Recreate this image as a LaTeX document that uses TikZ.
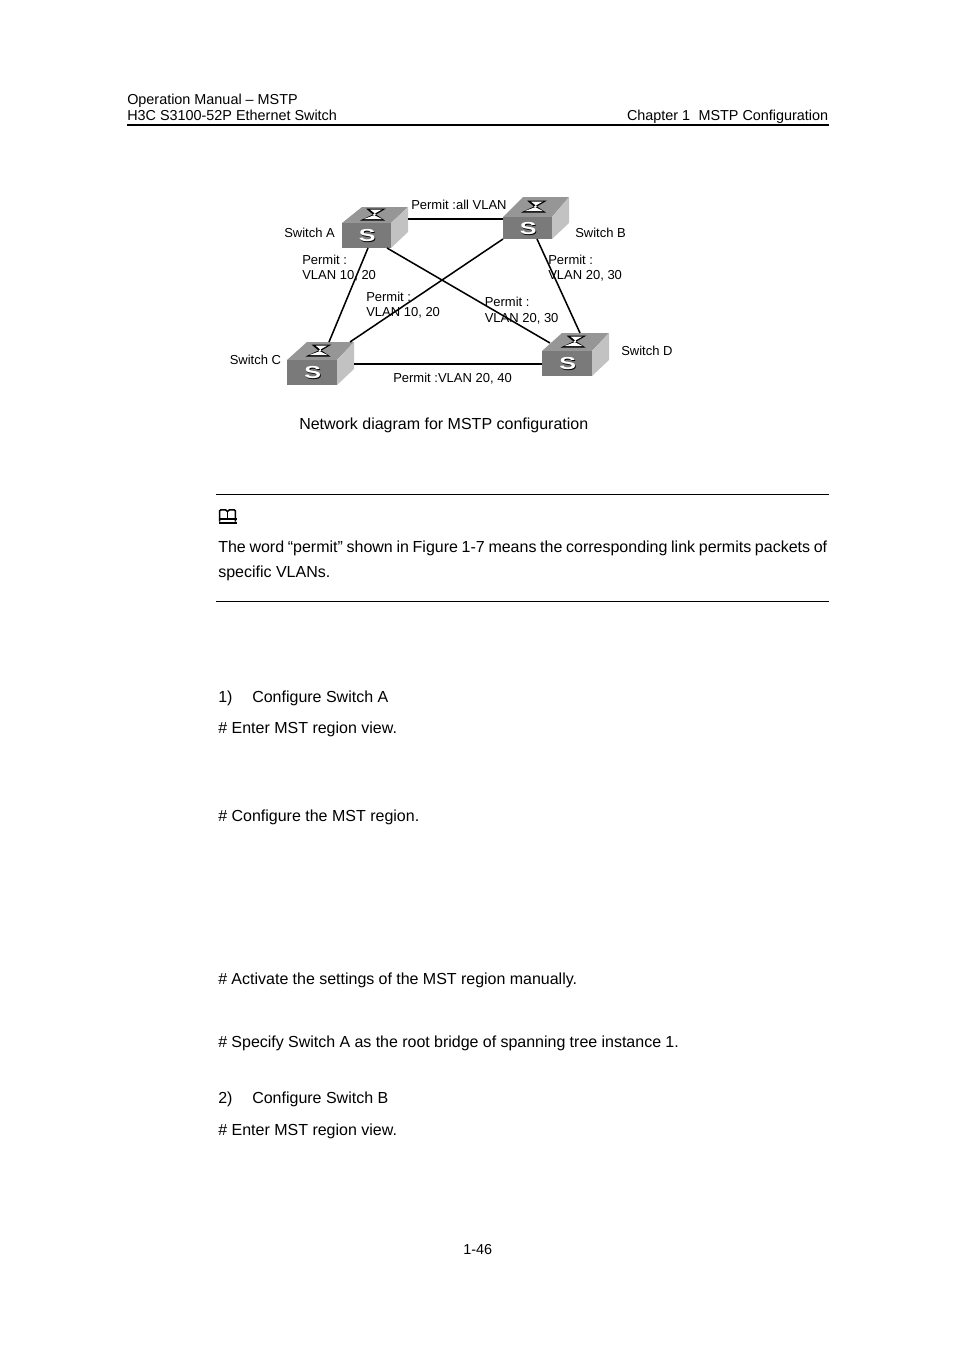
\documentclass[tikz,border=0pt]{standalone}
\usepackage{fontspec}
\setmainfont{Liberation Sans}
\definecolor{swfront}{HTML}{7A7A7A}
\definecolor{swtop}{HTML}{969696}
\definecolor{swside}{HTML}{C2C2C2}
\newcommand{\switchicon}[7]{% name, xl, xr, yfront, ybottom, ytop, depth
  \path[fill=swtop] (#2,#4) -- (#2+#7,#6) -- (#3+#7-3,#6) -- (#3,#4) -- cycle;
  \path[fill=swside] (#3,#4) -- (#3+#7-3,#6) -- (#3+#7-3,#5-16) -- (#3,#5) -- cycle;
  \node[swface, minimum width={(#3-#2)*0.75pt}, minimum height={(#5-#4)*0.75pt}] (#1) at ({(#2+#3)/2},{(#4+#5)/2}) {};
  \node[swmark, text=black] at ({(#2+#3)/2+1.4},{(#4+#5)/2+1.2}) {S};
  \node[swmark, text=white] at ({(#2+#3)/2+0.8},{(#4+#5)/2+0.2}) {S};
  \begin{scope}[shift={({(#2+#3+#7)/2-2.5},{(#4+#6)/2-0.5})}]
    \fill[black] (-14,6) -- (-1,0) -- (-8,-6) -- (12,-6) -- (2,0) -- (11,6) -- cycle;
    \fill[white] (-10,4.5) -- (2,0) -- (-4,-5) -- (8,-5) -- (-1,0) -- (8,4.5) -- cycle;
  \end{scope}
}
\tikzset{
  x=0.75pt,y=-0.75pt,
  swface/.style={fill=swfront,inner sep=0pt,outer sep=0pt},
  swmark/.style={font=\bfseries\fontsize{13}{14}\selectfont,xscale=1.45,inner sep=0pt},
  link/.style={line width=1.15pt,black},
  body/.style={anchor=base west,inner sep=0pt,font=\fontsize{12}{14}\selectfont},
  head/.style={anchor=base west,inner sep=0pt,font=\fontsize{10.8}{13}\selectfont},
  lab/.style={anchor=base west,inner sep=0pt,font=\fontsize{9.75}{11}\selectfont},
  rulel/.style={line width=0.75pt,black},
}
\begin{document}
\begin{tikzpicture}
\useasboundingbox[fill=white] (0,0) rectangle (954,1350);
% header
\node[head] (h1) at (127,104) {Operation Manual – MSTP};
\node[head] (h2) at (127,120) {H3C S3100-52P Ethernet Switch};
\node[head,anchor=base east] (h3) at (828.5,120) {Chapter 1\hspace{0.3em} MSTP Configuration};
\coordinate (hl) at (127,125); \coordinate (hr) at (828.5,125);
\draw[line width=1.2pt] (hl) -- (hr);
% switches
\switchicon{swA}{342}{391}{223}{248}{207}{20}
\switchicon{swB}{503}{552}{217}{239}{197}{20}
\switchicon{swC}{287}{337}{360}{385}{342}{20}
\switchicon{swD}{542}{592}{351}{376}{333}{20}
% connector ends
\coordinate (ab1) at (408,219); \coordinate (ab2) at (503,219);
\coordinate (ac1) at (368,248); \coordinate (ac2) at (329,342);
\coordinate (ad1) at (387,248); \coordinate (ad2) at (550,343);
\coordinate (bc1) at (503,239); \coordinate (bc2) at (350,342);
\coordinate (bd1) at (537,239); \coordinate (bd2) at (580,333);
\coordinate (cd1) at (354,364); \coordinate (cd2) at (542,364);
\draw[link] (ab1) -- (ab2);
\draw[link] (ac1) -- (ac2);
\draw[link] (ad1) -- (ad2);
\draw[link] (bc1) -- (bc2);
\draw[link] (bd1) -- (bd2);
\draw[link] (cd1) -- (cd2);
% diagram labels
\node[lab] (l1) at (284,237) {Switch A};
\node[lab] (l2) at (575,237) {Switch B};
\node[lab] (l3) at (229.5,364) {Switch C};
\node[lab] (l4) at (621,355) {Switch D};
\node[lab] (l5) at (411,209) {Permit :all VLAN};
\node[lab] (l6) at (302,264) {Permit :};
\node[lab] (l7) at (302,279) {VLAN 10, 20};
\node[lab] (l8) at (366,301) {Permit :};
\node[lab] (l9) at (366,316) {VLAN 10, 20};
\node[lab] (l10) at (484.5,306) {Permit :};
\node[lab] (l11) at (484.5,322) {VLAN 20, 30};
\node[lab] (l12) at (548,264) {Permit :};
\node[lab] (l13) at (548,279) {VLAN 20, 30};
\node[lab] (l14) at (393,382) {Permit :VLAN 20, 40};
% body
\node[body] (t1) at (299,429) {Network diagram for MSTP configuration};
\coordinate (r1l) at (216,494.5); \coordinate (r1r) at (829,494.5);
\draw[rulel] (r1l) -- (r1r);
\coordinate (r2l) at (216,601.5); \coordinate (r2r) at (829,601.5);
\draw[rulel] (r2l) -- (r2r);
% book icon
\begin{scope}[line width=1.15pt,line join=miter]
  \draw[fill=white] (219.7,521.5) -- (219.7,510.8) -- (221,509.8) -- (225.5,509.8) -- (227.5,511.5) -- (229.5,509.8) -- (234,509.8) -- (235.3,510.8) -- (235.3,521.5);
  \draw (227.5,511.5) -- (227.5,520);
  \draw[line width=1.4pt] (218.5,519.3) -- (236.5,519.3);
  \draw[line width=1.4pt] (218.5,522.6) -- (236.5,522.6);
\end{scope}
\node[body] (t2) at (218,552) {\spaceskip=0.23em plus 0pt The word “permit” shown in Figure 1-7 means the corresponding link permits packets of};
\node[body] (t3) at (218,577) {specific VLANs.};
\node[body] (t4) at (218,702) {1)};
\node[body] (t5) at (252,702) {Configure Switch A};
\node[body] (t6) at (218,733) {\# Enter MST region view.};
\node[body] (t7) at (218,821) {\# Configure the MST region.};
\node[body] (t8) at (218,984) {\spaceskip=0.27em plus 0pt \# Activate the settings of the MST region manually.};
\node[body] (t9) at (218,1047) {\spaceskip=0.268em plus 0pt \# Specify Switch A as the root bridge of spanning tree instance 1.};
\node[body] (t10) at (218,1103) {2)};
\node[body] (t11) at (252,1103) {Configure Switch B};
\node[body] (t12) at (218,1135) {\# Enter MST region view.};
\node[head] (pg) at (463,1254.5) {1-46};
\end{tikzpicture}
\end{document}
